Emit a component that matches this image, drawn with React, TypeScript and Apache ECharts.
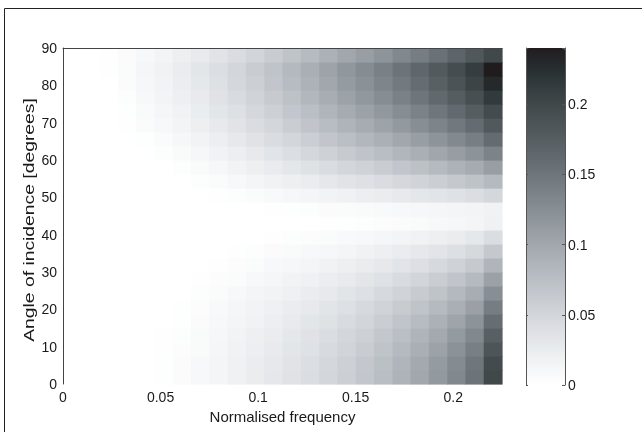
import React, { useEffect, useRef } from "react";
import * as echarts from "echarts";

// Normalised frequency (cell centres, step 0.009375) and angle of incidence (cell centres, step 3.75)
const FREQ = [0.0046875, 0.0140625, 0.0234375, 0.0328125, 0.0421875, 0.0515625, 0.0609375, 0.0703125, 0.0796875, 0.0890625, 0.0984375, 0.1078125, 0.1171875, 0.1265625, 0.1359375, 0.1453125, 0.1546875, 0.1640625, 0.1734375, 0.1828125, 0.1921875, 0.2015625, 0.2109375, 0.2203125];
const ANGLE = [1.875, 5.625, 9.375, 13.125, 16.875, 20.625, 24.375, 28.125, 31.875, 35.625, 39.375, 43.125, 46.875, 50.625, 54.375, 58.125, 61.875, 65.625, 69.375, 73.125, 76.875, 80.625, 84.375, 88.125];

// values per angle row (ascending angle), one value per frequency column
const ROW_02 = [0, 0, 0, 0, 0, 0.002, 0.005, 0.009, 0.014, 0.019, 0.025, 0.03, 0.036, 0.042, 0.049, 0.057, 0.066, 0.076, 0.087, 0.1, 0.114, 0.131, 0.152, 0.2];
const ROW_06 = [0, 0, 0, 0, 0, 0.002, 0.005, 0.009, 0.014, 0.019, 0.025, 0.029, 0.035, 0.041, 0.048, 0.056, 0.065, 0.074, 0.085, 0.098, 0.112, 0.128, 0.149, 0.196];
const ROW_09 = [0, 0, 0, 0, 0, 0.001, 0.004, 0.007, 0.012, 0.017, 0.022, 0.027, 0.032, 0.038, 0.045, 0.052, 0.06, 0.07, 0.08, 0.092, 0.105, 0.121, 0.14, 0.185];
const ROW_13 = [0, 0, 0, 0, 0, 0.001, 0.003, 0.007, 0.011, 0.016, 0.021, 0.025, 0.03, 0.036, 0.042, 0.049, 0.056, 0.065, 0.075, 0.086, 0.098, 0.113, 0.131, 0.173];
const ROW_17 = [0, 0, 0, 0, 0, 0, 0.002, 0.005, 0.009, 0.013, 0.018, 0.022, 0.027, 0.032, 0.037, 0.044, 0.051, 0.059, 0.068, 0.078, 0.089, 0.103, 0.12, 0.158];
const ROW_21 = [0, 0, 0, 0, 0, 0, 0.002, 0.004, 0.008, 0.012, 0.016, 0.02, 0.024, 0.028, 0.033, 0.039, 0.046, 0.053, 0.061, 0.07, 0.08, 0.092, 0.107, 0.142];
const ROW_24 = [0, 0, 0, 0, 0, 0, 0, 0.003, 0.006, 0.009, 0.013, 0.016, 0.02, 0.024, 0.028, 0.033, 0.039, 0.046, 0.053, 0.061, 0.07, 0.081, 0.094, 0.125];
const ROW_28 = [0, 0, 0, 0, 0, 0, 0, 0.001, 0.004, 0.006, 0.01, 0.012, 0.016, 0.019, 0.023, 0.027, 0.032, 0.038, 0.044, 0.051, 0.059, 0.068, 0.08, 0.106];
const ROW_32 = [0, 0, 0, 0, 0, 0, 0, 0, 0.001, 0.004, 0.006, 0.009, 0.011, 0.014, 0.017, 0.021, 0.025, 0.029, 0.034, 0.04, 0.046, 0.054, 0.063, 0.085];
const ROW_36 = [0, 0, 0, 0, 0, 0, 0, 0, 0, 0.001, 0.003, 0.005, 0.007, 0.009, 0.011, 0.014, 0.017, 0.021, 0.024, 0.029, 0.034, 0.04, 0.047, 0.064];
const ROW_39 = [0, 0, 0, 0, 0, 0, 0, 0, 0, 0, 0, 0.001, 0.003, 0.004, 0.006, 0.008, 0.01, 0.012, 0.015, 0.018, 0.021, 0.025, 0.03, 0.042];
const ROW_43 = [0, 0, 0, 0, 0, 0, 0, 0, 0, 0, 0, 0, 0, 0, 0.001, 0.002, 0.003, 0.004, 0.005, 0.007, 0.009, 0.011, 0.013, 0.019];
const ROW_47 = [0, 0, 0, 0, 0, 0, 0, 0, 0, 0, 0, 0.001, 0.002, 0.003, 0.005, 0.006, 0.007, 0.008, 0.009, 0.011, 0.012, 0.014, 0.015, 0.018];
const ROW_51 = [0, 0, 0, 0, 0, 0, 0, 0, 0.001, 0.003, 0.006, 0.008, 0.011, 0.013, 0.016, 0.019, 0.022, 0.025, 0.028, 0.031, 0.034, 0.038, 0.042, 0.048];
const ROW_54 = [0, 0, 0, 0, 0, 0, 0, 0.003, 0.006, 0.009, 0.013, 0.017, 0.021, 0.025, 0.03, 0.035, 0.039, 0.043, 0.048, 0.053, 0.058, 0.064, 0.071, 0.08];
const ROW_58 = [0, 0, 0, 0, 0, 0, 0.003, 0.007, 0.011, 0.016, 0.021, 0.026, 0.031, 0.037, 0.043, 0.049, 0.054, 0.06, 0.067, 0.073, 0.08, 0.088, 0.096, 0.109];
const ROW_62 = [0, 0, 0, 0, 0, 0.003, 0.007, 0.011, 0.017, 0.022, 0.028, 0.034, 0.041, 0.048, 0.055, 0.062, 0.069, 0.076, 0.084, 0.092, 0.101, 0.11, 0.12, 0.136];
const ROW_66 = [0, 0, 0, 0, 0.002, 0.006, 0.011, 0.016, 0.022, 0.029, 0.036, 0.043, 0.05, 0.058, 0.067, 0.075, 0.083, 0.091, 0.1, 0.109, 0.119, 0.13, 0.141, 0.16];
const ROW_69 = [0, 0, 0, 0.001, 0.005, 0.01, 0.015, 0.021, 0.028, 0.035, 0.043, 0.05, 0.059, 0.068, 0.077, 0.086, 0.095, 0.104, 0.114, 0.125, 0.135, 0.147, 0.16, 0.18];
const ROW_73 = [0, 0, 0, 0.002, 0.007, 0.012, 0.018, 0.024, 0.032, 0.039, 0.048, 0.056, 0.066, 0.075, 0.085, 0.096, 0.105, 0.115, 0.126, 0.137, 0.149, 0.162, 0.176, 0.196];
const ROW_77 = [0, 0, 0, 0.003, 0.009, 0.015, 0.021, 0.027, 0.036, 0.044, 0.053, 0.062, 0.072, 0.083, 0.094, 0.105, 0.115, 0.126, 0.138, 0.15, 0.163, 0.176, 0.192, 0.214];
const ROW_81 = [0, 0, 0, 0.005, 0.011, 0.016, 0.023, 0.03, 0.039, 0.048, 0.057, 0.067, 0.078, 0.088, 0.1, 0.112, 0.122, 0.134, 0.146, 0.159, 0.173, 0.187, 0.204, 0.229];
const ROW_84 = [0, 0, 0.001, 0.006, 0.012, 0.018, 0.025, 0.032, 0.041, 0.05, 0.06, 0.07, 0.081, 0.092, 0.104, 0.116, 0.127, 0.139, 0.152, 0.165, 0.179, 0.194, 0.211, 0.24];
const ROW_88 = [0, 0, 0.001, 0.005, 0.01, 0.015, 0.021, 0.027, 0.035, 0.043, 0.051, 0.06, 0.07, 0.079, 0.089, 0.1, 0.109, 0.119, 0.131, 0.142, 0.154, 0.167, 0.181, 0.2];

const ROWS = [ROW_02, ROW_06, ROW_09, ROW_13, ROW_17, ROW_21, ROW_24, ROW_28, ROW_32, ROW_36, ROW_39, ROW_43, ROW_47, ROW_51, ROW_54, ROW_58, ROW_62, ROW_66, ROW_69, ROW_73, ROW_77, ROW_81, ROW_84, ROW_88];

const X_TICKS = [0, 0.05, 0.1, 0.15, 0.2];
const CB_TICKS = [0, 0.05, 0.1, 0.15, 0.2];

const COLORS = ["#ffffff", "#eef0f2", "#dcdfe3", "#c9cdd2", "#b5bac0", "#a1a7ad", "#8c9399", "#788086", "#646c71", "#51595d", "#40484a", "#2b3436", "#201c1e"];

const FONT = "Liberation Sans, Arial, sans-serif";

export default function App() {
  const ref = useRef<HTMLDivElement>(null);
  useEffect(() => {
    if (!ref.current) return;
    const chart = echarts.init(ref.current, null, { renderer: "svg" });
    const DX = FREQ[1] - FREQ[0];
    const DY = ANGLE[1] - ANGLE[0];
    const data: number[][] = [];
    ROWS.forEach((row, j) => row.forEach((v, i) => data.push([FREQ[i], ANGLE[j], v])));

    const fmt = (ticks: number[]) => (v: number) => {
      const hit = ticks.find((t) => Math.abs(t - v) < 1e-9);
      return hit === undefined ? "" : String(hit);
    };

    chart.setOption({
      animation: false,
      textStyle: { fontFamily: FONT },
      grid: [
        { left: 63, top: 48, width: 439, height: 336 },
        { left: 526, top: 48, width: 39, height: 337 },
      ],
      xAxis: [
        {
          type: "value", gridIndex: 0, min: 0, max: 0.225, interval: 0.05, z: 10,
          axisLine: { show: false }, axisTick: { show: false }, splitLine: { show: false },
          axisLabel: { color: "#1a1a1a", fontSize: 14, margin: 6, formatter: fmt(X_TICKS), fontFamily: FONT },
          name: "Normalised frequency", nameLocation: "middle", nameGap: 22,
          nameTextStyle: { color: "#1a1a1a", fontSize: 15, fontFamily: FONT },
        },
        {
          type: "value", gridIndex: 0, position: "top", min: 0, max: 0.225, z: 10,
          axisLine: { show: true, onZero: false, lineStyle: { color: "#444", width: 1 } },
          axisTick: { show: false }, axisLabel: { show: false }, splitLine: { show: false },
        },
        { type: "value", gridIndex: 1, min: 0, max: 1, show: false },
      ],
      yAxis: [
        {
          type: "value", gridIndex: 0, min: 0, max: 90, interval: 10, z: 10,
          axisLine: { show: true, onZero: false, lineStyle: { color: "#444", width: 1 } },
          axisTick: { show: false }, splitLine: { show: false },
          axisLabel: { color: "#1a1a1a", fontSize: 14, margin: 6, fontFamily: FONT },
        },
        {
          type: "value", gridIndex: 1, position: "right", min: 0, max: 0.24, interval: 0.05, z: 10,
          axisLine: { show: true, onZero: false, lineStyle: { color: "#555", width: 1 } },
          axisTick: { show: true, inside: true, length: 3, lineStyle: { color: "#555" } },
          splitLine: { show: false },
          axisLabel: { color: "#1a1a1a", fontSize: 14, margin: 3, formatter: fmt(CB_TICKS), fontFamily: FONT },
        },
        {
          type: "value", gridIndex: 1, position: "left", min: 0, max: 0.24, interval: 0.05, z: 10,
          axisLine: { show: true, onZero: false, lineStyle: { color: "#555", width: 1 } },
          axisTick: { show: true, inside: true, length: 2, lineStyle: { color: "#555" } },
          axisLabel: { show: false }, splitLine: { show: false },
        },
      ],
      visualMap: {
        type: "continuous", min: 0, max: 0.24, dimension: 2, seriesIndex: 0,
        calculable: false, orient: "vertical", left: 526, top: 48, padding: 0,
        itemWidth: 39, itemHeight: 337, text: null, hoverLink: false,
        inRange: { color: COLORS },
      },
      series: [
        {
          type: "custom", xAxisIndex: 0, yAxisIndex: 0, silent: true,
          encode: { x: 0, y: 1 },
          data,
          renderItem: (params: any, api: any) => {
            const x = api.value(0);
            const y = api.value(1);
            const p0 = api.coord([x - DX / 2, y + DY / 2]);
            const p1 = api.coord([x + DX / 2, y - DY / 2]);
            return {
              type: "rect",
              shape: { x: p0[0], y: p0[1], width: p1[0] - p0[0] + 0.6, height: p1[1] - p0[1] + 0.6 },
              style: { fill: api.visual("color") },
            };
          },
          z: 1,
        },
      ],
      graphic: [
        {
          type: "rect", z: 0, silent: true,
          shape: { x: 4.5, y: 8.5, width: 700, height: 500 },
          style: { fill: "none", stroke: "#222", lineWidth: 1 },
        },
        {
          type: "text", x: 29, y: 220, rotation: Math.PI / 2, scaleX: 1.38, silent: true,
          style: {
            text: "Angle of incidence [degrees]", fontSize: 14, fontFamily: FONT,
            fill: "#1a1a1a", align: "center", verticalAlign: "middle",
          },
        },
      ],
    });
    return () => chart.dispose();
  }, []);
  return <div ref={ref} style={{ position: "fixed", left: 0, top: 0, width: 642, height: 432 }} />;
}
